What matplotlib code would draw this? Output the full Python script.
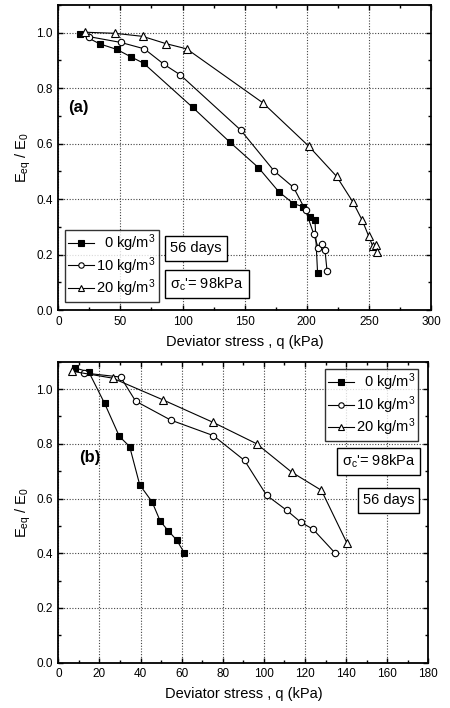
import matplotlib
matplotlib.use("Agg")
import matplotlib.pyplot as plt
from matplotlib.ticker import MultipleLocator

plt.rcParams['font.family'] = ['Liberation Sans', 'DejaVu Sans']
plt.rcParams['mathtext.fontset'] = 'custom'
plt.rcParams['mathtext.rm'] = 'Liberation Sans'
plt.rcParams['mathtext.it'] = 'Liberation Sans'
plt.rcParams['mathtext.bf'] = 'Liberation Sans:bold'

# ---------------- Panel (a) data ----------------
a_q0 = [17.7, 33.3, 47.0, 58.5, 68.7, 108.1, 138.2, 161.0, 177.4, 189.2, 196.7, 202.6, 206.6, 208.7]
a_e0 = [0.996, 0.960, 0.940, 0.913, 0.890, 0.731, 0.605, 0.514, 0.427, 0.384, 0.373, 0.337, 0.323, 0.133]
a_q10 = [24.7, 50.4, 69.2, 85.1, 98.2, 146.8, 173.6, 189.4, 199.1, 205.5, 209.3, 212.5, 214.6, 216.3]
a_e10 = [0.986, 0.965, 0.942, 0.886, 0.848, 0.649, 0.502, 0.442, 0.359, 0.275, 0.223, 0.239, 0.217, 0.142]
a_q20 = [21.2, 45.6, 67.9, 86.4, 103.3, 164.7, 201.8, 224.0, 237.2, 244.7, 249.8, 253.0, 255.5, 256.8]
a_e20 = [1.002, 0.998, 0.987, 0.961, 0.942, 0.747, 0.590, 0.482, 0.389, 0.323, 0.267, 0.231, 0.235, 0.211]

# ---------------- Panel (b) data ----------------
b_q0 = [8.1, 14.8, 22.5, 29.7, 34.7, 39.6, 45.6, 49.6, 53.5, 57.6, 61.3]
b_e0 = [1.077, 1.063, 0.948, 0.827, 0.790, 0.650, 0.588, 0.517, 0.482, 0.448, 0.401]
b_q10 = [12.3, 30.3, 37.6, 54.6, 75.4, 90.6, 101.3, 111.1, 118.0, 123.9, 134.6]
b_e10 = [1.059, 1.044, 0.956, 0.887, 0.830, 0.739, 0.612, 0.557, 0.513, 0.488, 0.401]
b_q20 = [6.8, 26.4, 51.1, 75.4, 96.5, 113.6, 128.0, 140.3]
b_e20 = [1.065, 1.040, 0.960, 0.878, 0.800, 0.696, 0.630, 0.439]

labels = ['  0 kg/m$^3$', '10 kg/m$^3$', '20 kg/m$^3$']
xlabel = 'Deviator stress , q (kPa)'
ylabel = 'E$_{eq}$ / E$_0$'
age_text = '56 days'
sigma_text = "$\\sigma_c$'= 98kPa"

fig = plt.figure(figsize=(4.5, 7.08), dpi=100)
ax1 = fig.add_axes([0.1296, 0.5621, 0.8282, 0.4308])
ax2 = fig.add_axes([0.1296, 0.0640, 0.8222, 0.4251])

styles = [dict(marker='s', mfc='black', mec='black', ms=4.6),
          dict(marker='o', mfc='white', mec='black', ms=4.6),
          dict(marker='^', mfc='white', mec='black', ms=5.6)]

def draw(ax, series, xmax, xmaj, xmin):
    for (q, e), lab, st in zip(series, labels, styles):
        ax.plot(q, e, color='black', lw=0.8, mew=0.8, label=lab, **st)
    ax.set_xlim(0, xmax)
    ax.set_ylim(0, 1.1)
    ax.xaxis.set_major_locator(MultipleLocator(xmaj))
    ax.xaxis.set_minor_locator(MultipleLocator(xmin))
    ax.yaxis.set_major_locator(MultipleLocator(0.2))
    ax.yaxis.set_minor_locator(MultipleLocator(0.1))
    ax.yaxis.set_major_formatter(matplotlib.ticker.FormatStrFormatter('%.1f'))
    ax.tick_params(which='both', direction='in', top=True, right=True,
                   labelsize=8.5, width=1.0)
    ax.tick_params(which='major', length=3.5, pad=4)
    ax.tick_params(which='minor', length=2)
    ax.grid(True, which='major', ls=(0, (1, 1.5)), color='#444444', lw=0.8)
    for s in ax.spines.values():
        s.set_linewidth(1.3)
    ax.set_xlabel(xlabel, fontsize=10.5, labelpad=5)
    ax.set_ylabel(ylabel, fontsize=10.5, labelpad=2)

box = dict(boxstyle='square,pad=0.35', fc='white', ec='black', lw=1.0)

legkw = dict(borderaxespad=0, fontsize=10.5, frameon=True, fancybox=False,
             edgecolor='black', handlelength=1.8, handletextpad=0.15,
             borderpad=0.2, labelspacing=0.05, markerscale=0.85)

draw(ax1, [(a_q0, a_e0), (a_q10, a_e10), (a_q20, a_e20)], 300, 50, 25)
leg1 = ax1.legend(loc='lower left', bbox_to_anchor=(0.018, 0.027), **legkw)
leg1.get_frame().set_linewidth(1.0)
ax1.text(110.6, 0.222, age_text, fontsize=10.5, ha='center', va='center', bbox=box)
ax1.text(119.7, 0.094, sigma_text, fontsize=10.5, ha='center', va='center', bbox=box)
ax1.text(16.3, 0.732, '(a)', fontsize=12, fontweight='bold', ha='center', va='center')

draw(ax2, [(b_q0, b_e0), (b_q10, b_e10), (b_q20, b_e20)], 180, 20, 10)
leg2 = ax2.legend(loc='upper right', bbox_to_anchor=(0.973, 0.976), **legkw)
leg2.get_frame().set_linewidth(1.0)
ax2.text(155.7, 0.735, sigma_text, fontsize=10.5, ha='center', va='center', bbox=box)
ax2.text(160.6, 0.593, age_text, fontsize=10.5, ha='center', va='center', bbox=box)
ax2.text(15.2, 0.749, '(b)', fontsize=12, fontweight='bold', ha='center', va='center')

fig.savefig('out.png', dpi=100)
